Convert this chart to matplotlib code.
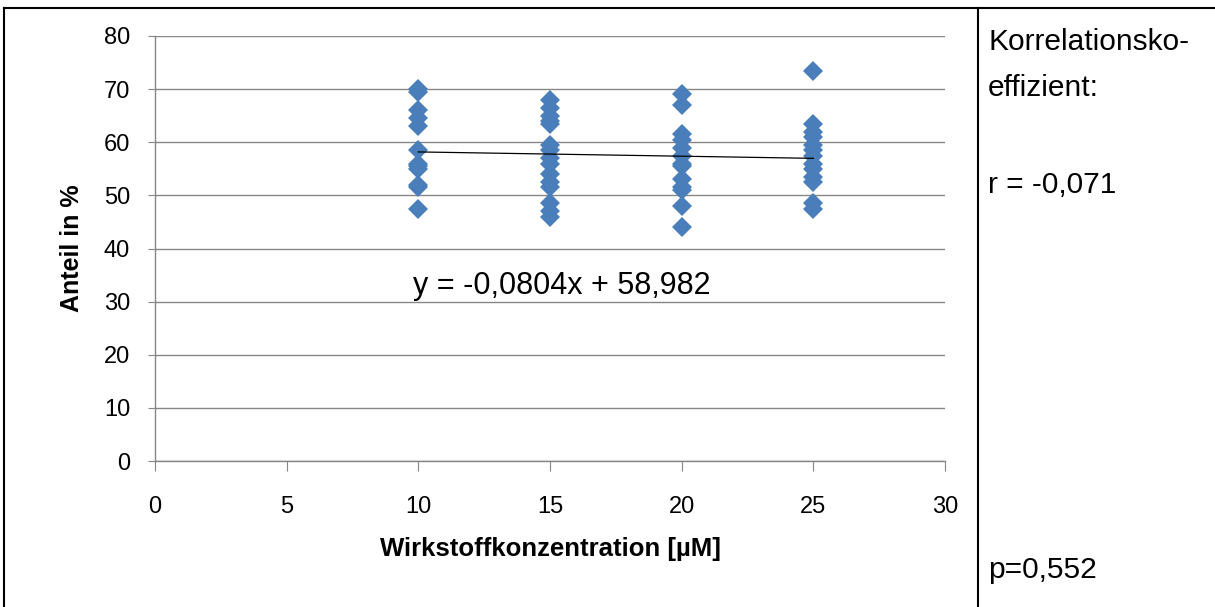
import numpy as np
import matplotlib.pyplot as plt
from matplotlib.lines import Line2D

plt.rcParams['font.family'] = ['Liberation Sans', 'DejaVu Sans']

# Messwerte je Konzentration (Anteil in %)
conc = [10, 15, 20, 25]
vals_10 = [70.0, 69.5, 66.0, 64.5, 63.0, 58.5, 56.0, 55.5, 55.0, 52.0, 51.5, 47.5]
vals_15 = [68.0, 66.5, 65.0, 64.0, 63.5, 59.5, 58.5, 57.0, 56.0, 54.0, 52.5, 51.5, 48.5, 47.0, 46.0]
vals_20 = [69.0, 67.0, 61.5, 60.5, 59.0, 57.5, 56.0, 55.5, 53.0, 51.5, 51.0, 48.0, 44.0]
vals_25 = [73.5, 63.5, 62.0, 61.0, 59.5, 58.5, 57.5, 56.0, 55.0, 53.5, 52.5, 48.5, 47.5]

# Trendlinie aus der Excel-Gleichung
slope = -0.0804
intercept = 58.982

x_ticks = [0, 5, 10, 15, 20, 25, 30]
y_ticks = [0, 10, 20, 30, 40, 50, 60, 70, 80]

blue = '#4A7EBB'
grey = '#868686'

fig = plt.figure(figsize=(12.15, 6.07), dpi=100)
ax = fig.add_axes([155 / 1215, 1 - 461 / 607, 790 / 1215, 425 / 607])

for c, vals in zip(conc, [vals_10, vals_15, vals_20, vals_25]):
    ax.plot([c] * len(vals), vals, 'D', color=blue, markersize=10.5, markeredgewidth=0, zorder=3)

xs = np.array([conc[0], conc[-1]])
ax.plot(xs, slope * xs + intercept, color='black', lw=0.9, zorder=4)

ax.set_xlim(0, 30)
ax.set_ylim(0, 80)
ax.set_xticks(x_ticks)
ax.set_yticks(y_ticks)
ax.yaxis.grid(True, color=grey, lw=1)
ax.set_axisbelow(True)
for s in ['top', 'right']:
    ax.spines[s].set_visible(False)
for s in ['left', 'bottom']:
    ax.spines[s].set_color(grey)
    ax.spines[s].set_linewidth(1)
ax.tick_params(axis='x', direction='out', length=7, color=grey, pad=18, labelsize=17)
ax.tick_params(axis='y', direction='out', length=5, color=grey, pad=13, labelsize=17)

ax.set_xlabel('Wirkstoffkonzentration [µM]', fontsize=18.5, fontweight='bold', labelpad=14)
ax.set_ylabel('Anteil in %', fontsize=18, fontweight='bold', labelpad=14)

ax.text(15.45, 33, 'y = -0,0804x + 58,982', fontsize=22, ha='center', va='center')

# Rahmen und rechte Spalte
fig.add_artist(Line2D([4 / 1215, 4 / 1215], [0, 1 - 8 / 607], color='black', lw=1.5))
fig.add_artist(Line2D([4 / 1215, 1], [1 - 8 / 607, 1 - 8 / 607], color='black', lw=1.5))
fig.add_artist(Line2D([978 / 1215, 978 / 1215], [0, 1 - 8 / 607], color='black', lw=1.5))

fig.text(988 / 1215, 1 - 42 / 607, 'Korrelationsko-', fontsize=21.5, va='center')
fig.text(988 / 1215, 1 - 88 / 607, 'effizient:', fontsize=21.5, va='center')
fig.text(988 / 1215, 1 - 185 / 607, 'r = -0,071', fontsize=21.5, va='center')
fig.text(988 / 1215, 1 - 570 / 607, 'p=0,552', fontsize=21.5, va='center')

fig.savefig('out.png', dpi=100)
